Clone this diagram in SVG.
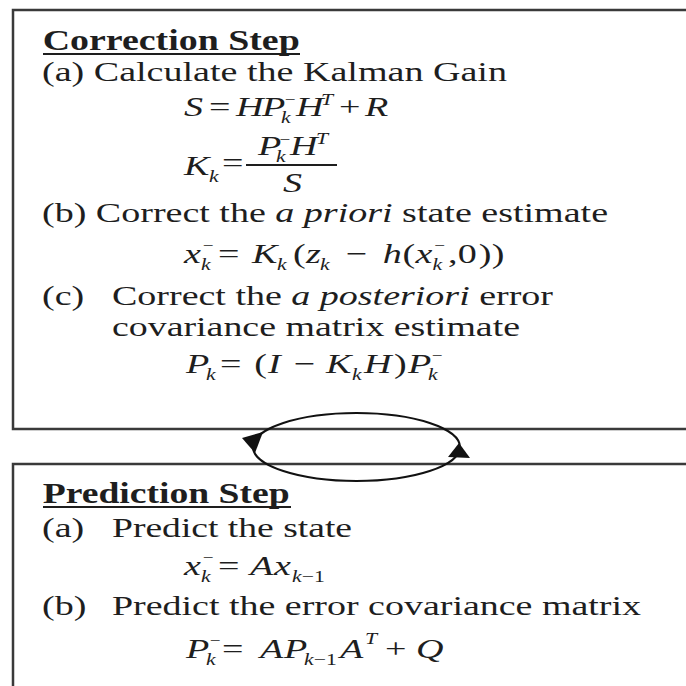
<svg xmlns="http://www.w3.org/2000/svg" width="686" height="686" viewBox="0 0 686 686">
<style>
.box{fill:none;stroke:#3a3a3a;stroke-width:2.5}
text{font-family:"Liberation Serif","Times New Roman",serif;fill:#1e1e1e}
.t{font-size:28px}
.h{font-size:28.5px;font-weight:bold}
.m{font-size:28px;font-style:italic}
.r{font-size:28px;font-style:normal}
.s{font-size:16px;font-style:italic}
.sr{font-size:16px;font-style:normal}
.sm{font-size:14px;font-style:normal}
.ul{stroke:#1e1e1e;stroke-width:2}
.conn{fill:none;stroke:#111;stroke-width:2}
.ah{fill:#111}
</style>
<rect width="686" height="686" fill="#fff"/>
<g id="correction-step">
<path class="box" d="M700 10H13V429H700"/>
<line class="ul" x1="43" y1="54" x2="300" y2="54"/>
<line class="ul" x1="246" y1="165" x2="337" y2="165" stroke-width="1.5"/>
<g transform="scale(1.36 1)">
<text class="h" x="31.4" y="50.5" textLength="189" lengthAdjust="spacingAndGlyphs">Correction Step</text>
<text class="t" x="30.88" y="81" textLength="341.9" lengthAdjust="spacingAndGlyphs">(a) Calculate the Kalman Gain</text>
<text class="m">
<tspan x="135.29" y="116">S</tspan><tspan class="r" x="153.68" y="116">=</tspan><tspan x="173.53" y="116">H</tspan><tspan x="192.65" y="116">P</tspan><tspan class="s" x="206.62" y="123">k</tspan><tspan class="sm" x="209.5" y="104">−</tspan><tspan x="217.65" y="116">H</tspan><tspan class="s" x="236.03" y="105">T</tspan><tspan class="r" x="249.26" y="116">+</tspan><tspan x="268.38" y="116">R</tspan>
</text>
<text class="m">
<tspan x="135.29" y="175">K</tspan><tspan class="s" x="153.68" y="182">k</tspan><tspan class="r" x="163.24" y="172">=</tspan><tspan x="189.71" y="155">P</tspan><tspan class="s" x="202.94" y="162">k</tspan><tspan class="sm" x="205.8" y="144">−</tspan><tspan x="213.24" y="155">H</tspan><tspan class="s" x="232.35" y="144">T</tspan><tspan x="208.09" y="192">S</tspan>
</text>
<text class="t" x="30.88" y="222" textLength="416.2" lengthAdjust="spacingAndGlyphs">(b) Correct the <tspan font-style="italic">a priori</tspan> state estimate</text>
<text class="m">
<tspan x="135.29" y="263">x</tspan><tspan class="s" x="147.79" y="270">k</tspan><tspan class="sm" x="149.2" y="250">−</tspan><tspan class="r" x="160.3" y="263">=</tspan><tspan x="185.29" y="263">K</tspan><tspan class="s" x="203.68" y="270">k</tspan><tspan class="r" x="215.44" y="263">(</tspan><tspan x="225" y="263">z</tspan><tspan class="s" x="235.29" y="270">k</tspan><tspan class="r" x="254.5" y="263">−</tspan><tspan x="281.5" y="263">h</tspan><tspan class="r" x="296" y="263">(</tspan><tspan x="305.5" y="263">x</tspan><tspan class="s" x="318" y="270">k</tspan><tspan class="sm" x="319.4" y="250">−</tspan><tspan class="r" x="329.5" y="263">,</tspan><tspan class="r" x="336.5" y="263">0</tspan><tspan class="r" x="352" y="263">)</tspan><tspan class="r" x="361.5" y="263">)</tspan>
</text>
<text class="t" x="30.88" y="305">(c)</text>
<text class="t" x="82.35" y="305" textLength="324.3" lengthAdjust="spacingAndGlyphs">Correct the <tspan font-style="italic">a posteriori</tspan> error</text>
<text class="t" x="82.35" y="336" textLength="300" lengthAdjust="spacingAndGlyphs">covariance matrix estimate</text>
<text class="m">
<tspan x="136.76" y="373">P</tspan><tspan class="s" x="151.47" y="380">k</tspan><tspan class="r" x="161.76" y="373">=</tspan><tspan class="r" x="187" y="373">(</tspan><tspan x="197" y="373">I</tspan><tspan class="r" x="216.18" y="373">−</tspan><tspan x="239.71" y="373">K</tspan><tspan class="s" x="258.82" y="380">k</tspan><tspan x="267.65" y="373">H</tspan><tspan class="r" x="289.71" y="373">)</tspan><tspan x="300" y="373">P</tspan><tspan class="s" x="314.71" y="380">k</tspan><tspan class="sm" x="317.6" y="360">−</tspan>
</text>
</g>
</g>
<g id="prediction-step">
<path class="box" d="M700 464H13V700"/>
<line class="ul" x1="43" y1="507" x2="291" y2="507"/>
<g transform="scale(1.36 1)">
<text class="h" x="31.4" y="503" textLength="181.6" lengthAdjust="spacingAndGlyphs">Prediction Step</text>
<text class="t" x="30.88" y="537">(a)</text>
<text class="t" x="82.35" y="537" textLength="176.5" lengthAdjust="spacingAndGlyphs">Predict the state</text>
<text class="m">
<tspan x="135.29" y="575">x</tspan><tspan class="s" x="147.79" y="582">k</tspan><tspan class="sm" x="149.2" y="562">−</tspan><tspan class="r" x="160.3" y="575">=</tspan><tspan x="183.82" y="575">A</tspan><tspan x="201.47" y="575">x</tspan><tspan class="s" x="214.71" y="582">k<tspan class="sr">−1</tspan></tspan>
</text>
<text class="t" x="30.88" y="615">(b)</text>
<text class="t" x="82.35" y="615" textLength="389" lengthAdjust="spacingAndGlyphs">Predict the error covariance matrix</text>
<text class="m">
<tspan x="136.76" y="658">P</tspan><tspan class="s" x="151.47" y="665">k</tspan><tspan class="sm" x="154.4" y="645">−</tspan><tspan class="r" x="163.24" y="658">=</tspan><tspan x="191.18" y="658">A</tspan><tspan x="208.82" y="658">P</tspan><tspan class="s" x="223.53" y="665">k<tspan class="sr">−1</tspan></tspan><tspan x="250" y="658">A</tspan><tspan class="s" x="268.4" y="644">T</tspan><tspan class="r" x="283.09" y="658">+</tspan><tspan x="305.88" y="658">Q</tspan>
</text>
</g>
</g>
<g id="connectors">
<ellipse class="conn" cx="356.5" cy="447" rx="103.5" ry="34"/>
<polygon class="ah" points="242,438 263,432 255,453"/>
<polygon class="ah" points="448,457 470,458 459,443"/>
</g>
</svg>
